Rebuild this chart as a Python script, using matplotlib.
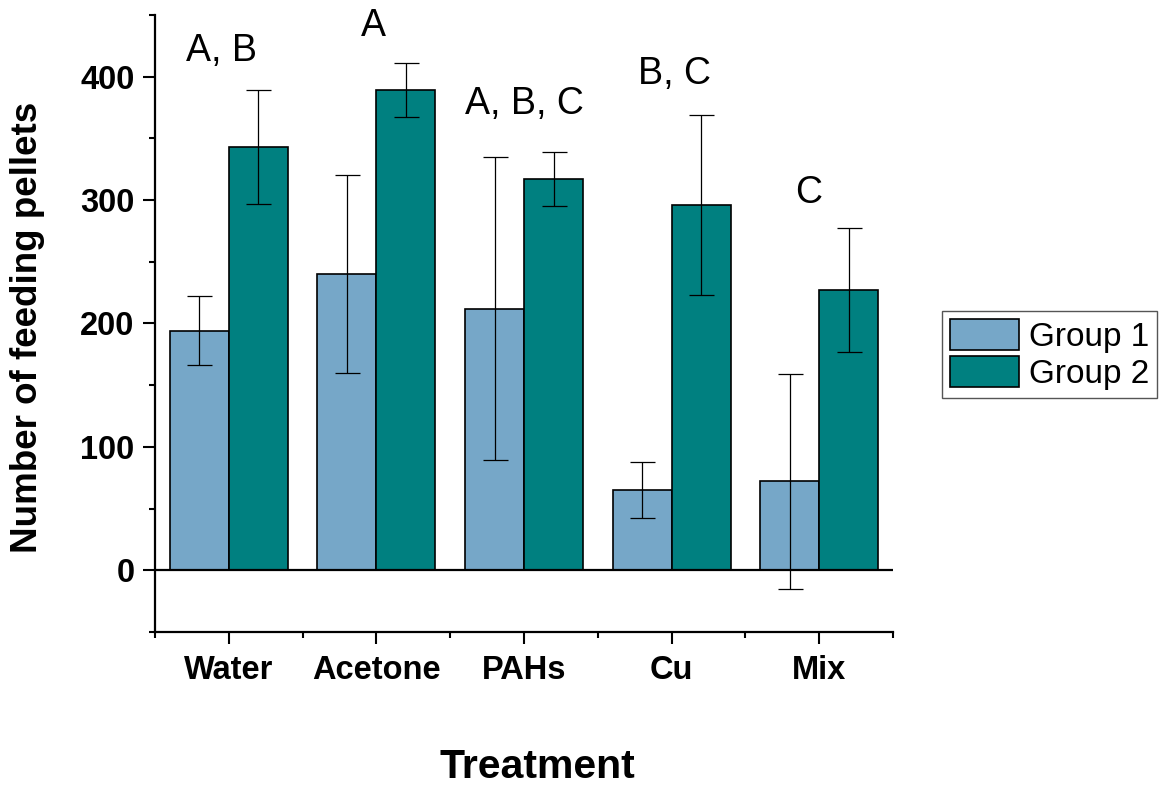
import matplotlib.pyplot as plt
import numpy as np
from matplotlib.ticker import MultipleLocator, FixedLocator

plt.rcParams['font.family'] = ['Liberation Sans', 'DejaVu Sans']

# Data
treatments = ['Water', 'Acetone', 'PAHs', 'Cu', 'Mix']
group1 = [194, 240, 212, 65, 72]
group1_err = [28, 80, 123, 23, 87]
group2 = [343, 389, 317, 296, 227]
group2_err = [46, 22, 22, 73, 50]
letters = ['A, B', 'A', 'A, B, C', 'B, C', 'C']
letter_x = [-0.05, 0.98, 2.0, 3.02, 3.93]
letter_y = [421, 441, 378, 402, 306]

c1 = '#76a7c8'
c2 = '#008080'

fig = plt.figure(figsize=(11.68, 7.86), dpi=100)
ax = fig.add_axes([0.1327, 0.1959, 0.7646 - 0.1327, 0.981 - 0.1959])

x = np.arange(len(treatments))
w = 0.4
err_kw = dict(ecolor='black', elinewidth=0.9, capsize=9, capthick=0.9)
ax.bar(x - w / 2, group1, w, yerr=group1_err, color=c1, edgecolor='black',
       linewidth=1.2, label='Group 1', error_kw=err_kw)
ax.bar(x + w / 2, group2, w, yerr=group2_err, color=c2, edgecolor='black',
       linewidth=1.2, label='Group 2', error_kw=err_kw)

ax.axhline(0, color='black', linewidth=1.6, zorder=3)

for lx, ly, s in zip(letter_x, letter_y, letters):
    ax.text(lx, ly, s, ha='center', va='center', fontsize=27)

ax.set_xlim(-0.5, 4.5)
ax.set_ylim(-50, 450)

ax.spines['top'].set_visible(False)
ax.spines['right'].set_visible(False)
ax.spines['left'].set_linewidth(1.6)
ax.spines['bottom'].set_linewidth(1.6)

ax.set_xticks(x)
ax.set_xticklabels(treatments, fontsize=23.5, fontweight='bold')
ax.xaxis.set_minor_locator(FixedLocator(np.arange(-0.5, 5, 1)))
ax.set_yticks([0, 100, 200, 300, 400])
ax.set_yticklabels(['0', '100', '200', '300', '400'], fontsize=23.5, fontweight='bold')
ax.yaxis.set_minor_locator(MultipleLocator(50))

ax.tick_params(axis='both', which='major', direction='out', length=8.6, width=1.5, pad=6)
ax.tick_params(axis='both', which='minor', direction='out', length=4.5, width=1.5)
ax.tick_params(axis='x', which='major', pad=8)

ax.set_ylabel('Number of feeding pellets', fontsize=26.5, fontweight='bold')
ax.yaxis.set_label_coords(-0.149, 0.493)
ax.set_xlabel('Treatment', fontsize=29.5, fontweight='bold')
ax.xaxis.set_label_coords(0.5176, -0.188)

leg = ax.legend(loc='center left', bbox_to_anchor=(0.8065, 0.549),
                bbox_transform=fig.transFigure, fontsize=24, frameon=True,
                fancybox=False, edgecolor='#555555', framealpha=1,
                handlelength=2.05, handleheight=1.05, handletextpad=0.3,
                labelspacing=0.1, borderpad=0.25, borderaxespad=0)
leg.get_frame().set_linewidth(1.0)

fig.savefig('out.png', dpi=100)
